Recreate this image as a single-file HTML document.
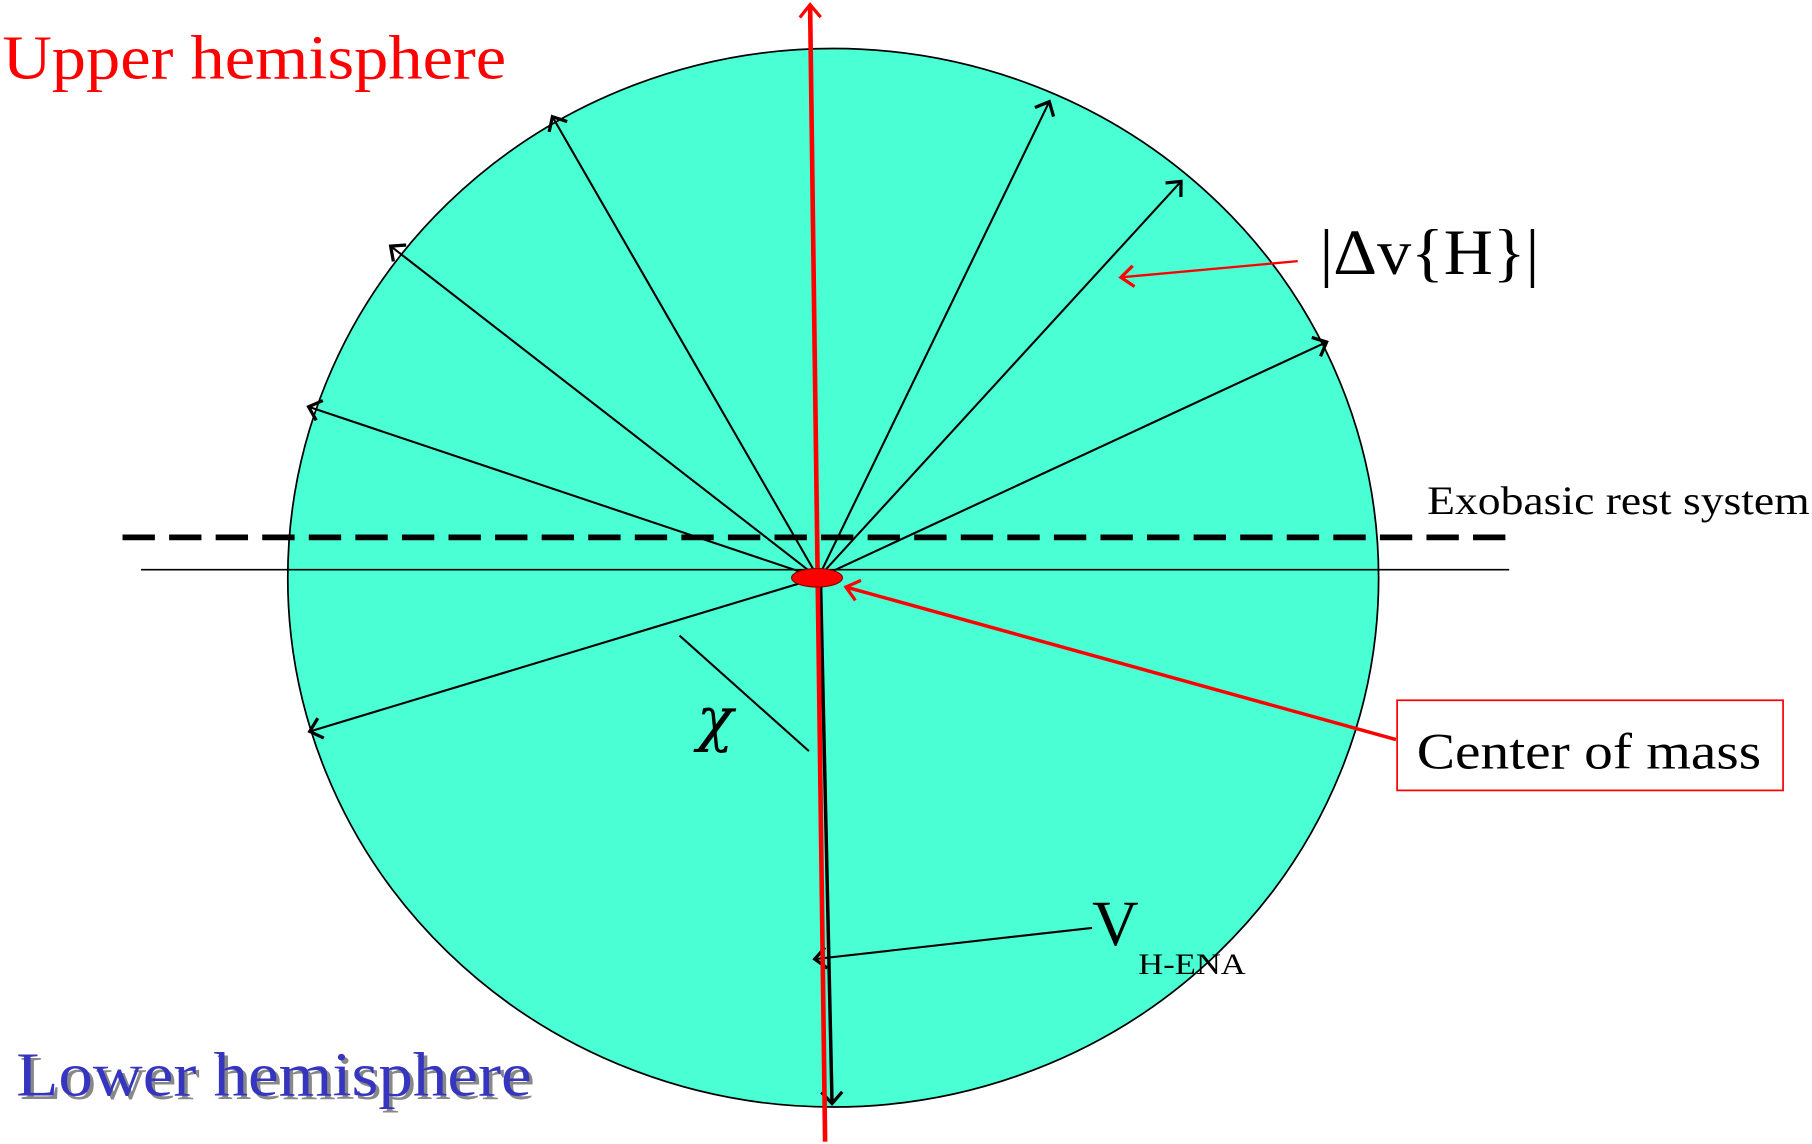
<!DOCTYPE html>
<html><head><meta charset="utf-8"><style>html,body{margin:0;padding:0;background:#fff}svg{display:block}</style></head>
<body>
<svg width="1812" height="1144" viewBox="0 0 1568 990" xmlns="http://www.w3.org/2000/svg" font-family="Liberation Serif, serif">
<defs>
<marker id="a" markerWidth="24" markerHeight="24" refX="12" refY="12" orient="auto" markerUnits="userSpaceOnUse"><path d="M2,3 L12,12 L2,21" fill="none" stroke="#000" stroke-width="2.8"/></marker>
<marker id="r" markerWidth="26" markerHeight="26" refX="13" refY="13" orient="auto" markerUnits="userSpaceOnUse"><path d="M2,4 L13,13 L2,22" fill="none" stroke="#f00" stroke-width="2.8"/></marker>
</defs>
<ellipse cx="721" cy="500" rx="472" ry="458" fill="#4affd4" stroke="#000" stroke-width="1.5"/>
<line x1="122" y1="493" x2="1306" y2="493" stroke="#000" stroke-width="1.5"/>
<line x1="106" y1="465" x2="1306" y2="465" stroke="#000" stroke-width="5" stroke-dasharray="28,12.3"/>
<g stroke="#000" stroke-width="1.8" marker-end="url(#a)">
<line x1="708" y1="500" x2="478" y2="101"/>
<line x1="708" y1="500" x2="338" y2="213"/>
<line x1="708" y1="500" x2="267" y2="352"/>
<line x1="708" y1="500" x2="908" y2="88"/>
<line x1="708" y1="500" x2="1022" y2="157"/>
<line x1="708" y1="500" x2="1148" y2="296"/>
<line x1="708" y1="500" x2="268" y2="633"/>
<line x1="945" y1="803" x2="705" y2="830"/>
</g>
<line x1="710" y1="500" x2="720" y2="955" stroke="#000" stroke-width="3" marker-end="url(#a)"/>
<line x1="714" y1="988" x2="701" y2="4" stroke="#f00" stroke-width="4" marker-end="url(#r)"/>
<line x1="588" y1="550" x2="700" y2="650" stroke="#000" stroke-width="1.8"/>
<ellipse cx="707" cy="500" rx="22" ry="8" fill="#f00" stroke="#800" stroke-width="1"/>
<line x1="1208" y1="640" x2="732" y2="508" stroke="#f00" stroke-width="3" marker-end="url(#r)"/>
<line x1="1123" y1="226" x2="970" y2="240" stroke="#f00" stroke-width="2" marker-end="url(#r)"/>
<rect x="1209" y="606" width="334" height="78" fill="#fff" stroke="#f00" stroke-width="1.5"/>
<text x="1226" y="665" font-size="44" textLength="298" lengthAdjust="spacingAndGlyphs">Center of mass</text>
<text x="1142" y="237" font-size="56" textLength="190" lengthAdjust="spacingAndGlyphs">|Δv{H}|</text>
<text x="1235" y="445" font-size="35" textLength="331" lengthAdjust="spacingAndGlyphs">Exobasic rest system</text>
<text x="603" y="640" font-size="52" font-style="italic" font-family="DejaVu Serif, serif">χ</text>
<text x="945" y="818" font-size="56">V</text>
<text x="985" y="843" font-size="26" textLength="93" lengthAdjust="spacingAndGlyphs">H-ENA</text>
<text x="2" y="68" font-size="54" fill="#f00" textLength="436" lengthAdjust="spacingAndGlyphs">Upper hemisphere</text>
<text x="17" y="951" font-size="54" fill="#888" textLength="446" lengthAdjust="spacingAndGlyphs">Lower hemisphere</text>
<text x="14" y="948" font-size="54" fill="#3535c0" textLength="446" lengthAdjust="spacingAndGlyphs">Lower hemisphere</text>
</svg>
</body></html>
